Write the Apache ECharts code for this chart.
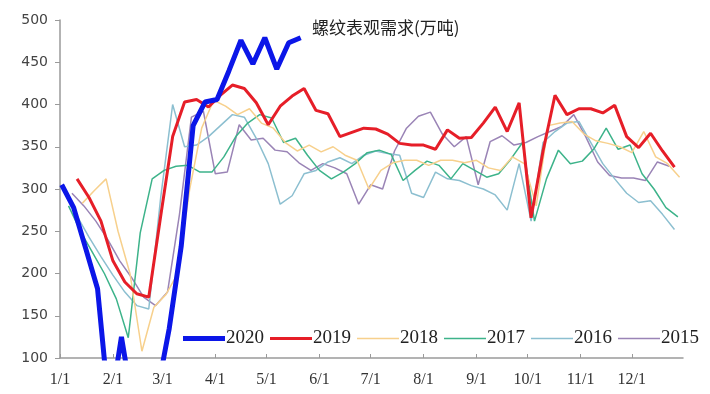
<!DOCTYPE html>
<html>
<head>
<meta charset="utf-8">
<script src="https://cdn.jsdelivr.net/npm/echarts@6/dist/echarts.min.js"></script>
<style>
  html, body { margin: 0; padding: 0; background: #fff; }
  #chart { width: 710px; height: 394px; }
</style>
</head>
<body>
<div id="chart"></div>
<script>
// Weekly apparent demand for rebar, 10k tonnes. Each year is a weekly series
// that begins on the given day of the year (day 0 = Jan 1).
const monthStartDays = [0, 31, 60, 91, 121, 152, 182, 213, 244, 274, 305, 335];
const monthLabels = ['1/1', '2/1', '3/1', '4/1', '5/1', '6/1', '7/1', '8/1', '9/1', '10/1', '11/1', '12/1'];
const yTicks = [100, 150, 200, 250, 300, 350, 400, 450, 500];

const years = ['2020', '2019', '2018', '2017', '2016', '2015'];
const firstDay = { '2020': 1, '2019': 10, '2018': 13, '2017': 5, '2016': 3, '2015': 7 };

const demand2020 = [305, 278, 230, 182, 35, 125, 40, 50, 60, 135, 232, 375, 403, 406, 440, 476, 448, 479, 442, 473, 479];
const demand2019 = [312, 290, 262, 215, 190, 176, 172, 268, 362, 403, 406, 397, 411, 423, 419, 402, 376, 398, 410, 419,
  393, 389, 362, 367, 372, 371, 365, 354, 352, 352, 347, 370, 360, 361, 378, 397, 368, 402, 266, 345,
  411, 388, 395, 395, 390, 399, 362, 349, 366, 345, 326];
const demand2018 = [283, 298, 312, 250, 200, 108, 160, 175, 200, 300, 372, 405, 398, 388, 395, 378, 372, 355, 345, 352,
  344, 350, 340, 334, 300, 322, 331, 334, 334, 328, 334, 334, 331, 334, 325, 322, 338, 330, 280, 375,
  378, 380, 365, 357, 354, 350, 343, 368, 338, 330, 314];
const demand2017 = [280, 250, 225, 200, 170, 124, 248, 312, 322, 327, 328, 320, 320, 338, 362, 378, 388, 384, 355, 360,
  340, 322, 312, 320, 330, 343, 346, 341, 310, 322, 333, 328, 312, 330, 322, 314, 318, 335, 355, 262,
  312, 346, 330, 333, 348, 372, 347, 352, 318, 300, 278, 267];
const demand2016 = [295, 268, 243, 220, 198, 178, 162, 158, 290, 400, 350, 352, 362, 375, 388, 385, 360, 330, 282, 292,
  318, 322, 332, 337, 330, 340, 345, 342, 340, 295, 290, 320, 312, 310, 304, 300, 293, 275, 330, 262,
  355, 368, 378, 380, 355, 330, 312, 295, 284, 286, 270, 252];
const demand2015 = [295, 280, 262, 240, 215, 195, 172, 162, 178, 270, 385, 392, 318, 320, 376, 358, 360, 346, 344, 331,
  322, 330, 325, 318, 282, 305, 300, 345, 372, 386, 391, 365, 350, 362, 305, 356, 363, 352, 355, 362,
  368, 374, 388, 362, 332, 316, 313, 313, 310, 332, 327];

const demandByYear = {
  '2020': demand2020, '2019': demand2019, '2018': demand2018,
  '2017': demand2017, '2016': demand2016, '2015': demand2015
};

const lineColors = { '2020': '#0b16e8', '2019': '#e61e28', '2018': '#f7d08c', '2017': '#3db38a', '2016': '#8cbfd0', '2015': '#9a84b6' };
const lineWidths = { '2020': 5, '2019': 3, '2018': 1.5, '2017': 1.5, '2016': 1.5, '2015': 1.5 };

function weekly(year) {
  return demandByYear[year].map((v, i) => [firstDay[year] + 7 * i, v]);
}

// Legend swatch: a flat bar whose thickness follows the line width.
function swatch(year) {
  const h = Math.round(lineWidths[year] * 100 / 42 * 10) / 10;
  return 'path://M0,0H100V' + h + 'H0Z';
}

// Older years first so the current year is drawn on top.
const series = years.slice().reverse().map(y => ({
  name: y,
  type: 'line',
  data: weekly(y),
  symbol: 'none',
  smooth: false,
  lineStyle: { color: lineColors[y], width: lineWidths[y] },
  itemStyle: { color: lineColors[y] },
  z: y === '2020' ? 10 : (y === '2019' ? 9 : 2)
}));

const chart = echarts.init(document.getElementById('chart'), null, { renderer: 'canvas' });
chart.setOption({
  animation: false,
  backgroundColor: '#fff',
  title: {
    text: '螺纹表观需求(万吨)',
    left: 307,
    top: 14,
    textStyle: { fontFamily: 'Noto Sans CJK SC', fontSize: 17, fontWeight: 'normal', color: '#222' }
  },
  legend: {
    data: years.map(y => ({ name: y, icon: swatch(y) })),
    left: 178,
    top: 324,
    itemWidth: 42,
    itemHeight: 12,
    itemGap: 6,
    textStyle: { fontFamily: 'Liberation Serif', fontSize: 19, color: '#222', padding: [0, 0, 0, -4] }
  },
  grid: { left: 60, right: 27, top: 20, bottom: 36 },
  xAxis: {
    type: 'value',
    min: 0,
    max: 365,
    splitLine: { show: false },
    axisLine: { show: true, lineStyle: { color: '#9a9a9a', width: 1.5 } },
    axisTick: { show: true, inside: true, length: 4, lineStyle: { color: '#9a9a9a' }, customValues: monthStartDays },
    axisLabel: {
      customValues: monthStartDays,
      formatter: v => monthLabels[monthStartDays.indexOf(v)],
      fontFamily: 'Liberation Serif',
      fontSize: 16,
      color: '#333',
      margin: 14
    }
  },
  yAxis: {
    type: 'value',
    min: yTicks[0],
    max: yTicks[yTicks.length - 1],
    interval: 50,
    splitLine: { show: false },
    axisLine: { show: true, lineStyle: { color: '#9a9a9a', width: 1.5 } },
    axisTick: { show: true, length: 5, lineStyle: { color: '#9a9a9a' } },
    axisLabel: { fontFamily: 'DejaVu Sans', fontSize: 14, color: '#444', margin: 12 }
  },
  series: series
});
</script>
</body>
</html>
